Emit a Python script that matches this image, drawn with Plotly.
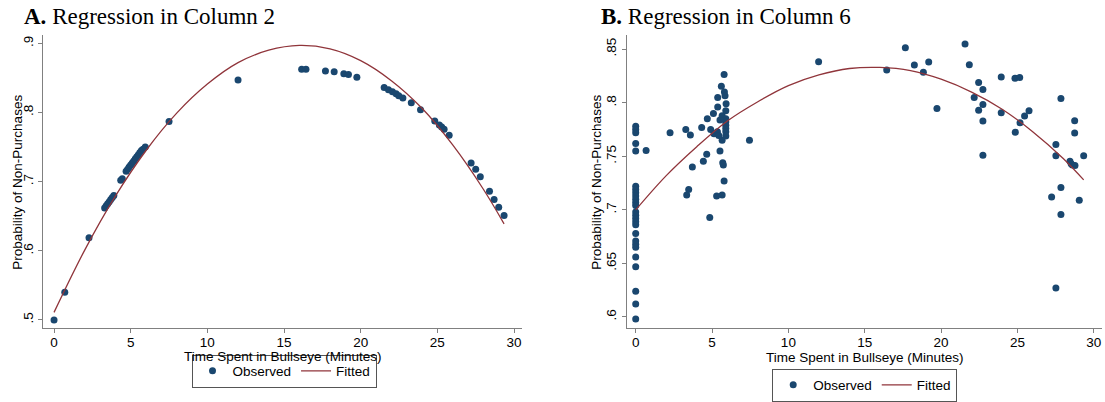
import plotly.graph_objects as go

# ---------------- Panel A data ----------------
tA_obs = [0, 0.7, 2.28, 3.3, 3.4, 3.5, 3.6, 3.7, 3.8, 3.9, 4.35, 4.45, 4.7, 4.8, 4.9, 5.0,
          5.1, 5.2, 5.3, 5.4, 5.5, 5.6, 5.7, 5.8, 5.95, 7.5, 12.0, 16.15, 16.43, 17.7,
          18.27, 18.9, 19.2, 19.75, 21.53, 21.81, 22.07, 22.31, 22.48, 22.75, 23.3, 23.9,
          24.83, 25.13, 25.28, 25.44, 25.77, 27.2, 27.5, 27.8, 28.4, 28.7, 29.0, 29.35]
pA_obs = [0.500, 0.540, 0.619, 0.662, 0.665, 0.668, 0.671, 0.674, 0.677, 0.680, 0.702, 0.704,
          0.715, 0.718, 0.721, 0.724, 0.727, 0.730, 0.733, 0.736, 0.739, 0.742, 0.745, 0.747,
          0.750, 0.787, 0.847, 0.8625, 0.8625, 0.860, 0.859, 0.856, 0.855, 0.851, 0.836,
          0.833, 0.830, 0.827, 0.824, 0.821, 0.814, 0.804, 0.7876, 0.7818, 0.779, 0.7756,
          0.7669, 0.727, 0.718, 0.707, 0.686, 0.674, 0.663, 0.651]
tA_fit = [0, 2, 4, 6, 8, 10, 12, 14, 16, 18, 20, 22, 24, 26, 28, 29.35]
pA_fit = [0.511, 0.601, 0.679, 0.745, 0.799, 0.841, 0.872, 0.890, 0.897, 0.892, 0.875,
          0.846, 0.806, 0.753, 0.689, 0.639]

# ---------------- Panel B data ----------------
tB_obs = [0] * 26 + [
    0.68, 2.25, 3.28, 3.58, 3.34, 3.47, 3.71, 4.32, 4.43, 4.65, 4.69, 4.85, 4.91, 5.09,
    5.13, 5.30, 5.37, 5.37, 5.35, 5.52, 5.61, 5.66, 5.66, 5.70, 5.74, 5.79, 5.81, 5.79,
    5.85, 5.92, 5.90, 5.90, 5.90, 5.90, 5.90, 5.90, 5.90, 5.66, 5.52, 5.44, 7.45,
    11.98, 16.44, 17.66, 18.25, 18.84, 19.19, 19.73, 21.57, 21.85, 22.17, 22.46, 22.46,
    22.74, 22.74, 22.74, 22.74, 23.94, 23.94, 24.84, 25.15, 24.86, 25.17, 25.47, 25.76,
    27.85, 28.75, 28.75, 27.52, 27.52, 29.34, 28.44, 28.60, 28.77, 28.52, 27.24, 27.85,
    29.05, 27.85, 27.52]
pB_obs = [0.778, 0.775, 0.772, 0.762, 0.755, 0.722, 0.719, 0.716, 0.713, 0.710, 0.707,
          0.704, 0.698, 0.695, 0.692, 0.689, 0.686, 0.678, 0.671, 0.668, 0.665, 0.656,
          0.647, 0.624, 0.612, 0.598] + [
    0.7555, 0.772, 0.775, 0.770, 0.714, 0.719, 0.740, 0.777, 0.7455, 0.752, 0.785, 0.693,
    0.775, 0.790, 0.771, 0.713, 0.796, 0.805, 0.773, 0.755, 0.8155, 0.788, 0.714, 0.744,
    0.742, 0.8265, 0.810, 0.727, 0.8065, 0.799, 0.7925, 0.785, 0.782, 0.779, 0.776, 0.773,
    0.769, 0.765, 0.784, 0.7695, 0.765,
    0.8383, 0.8306, 0.8514, 0.8352, 0.8284, 0.838, 0.7947, 0.8549, 0.8355, 0.805, 0.819,
    0.793, 0.8125, 0.7985, 0.783, 0.751, 0.824, 0.7907, 0.8228, 0.8237, 0.7726, 0.7813,
    0.7876, 0.7925, 0.8041, 0.7832, 0.7717, 0.7611, 0.7505, 0.7505, 0.7455, 0.742, 0.7415,
    0.743, 0.7121, 0.7209, 0.709, 0.6957, 0.6271]
tB_fit = [0, 2, 4, 6, 8, 10, 12, 14, 16, 18, 20, 22, 24, 26, 28, 29.34]
pB_fit = [0.700, 0.732, 0.759, 0.783, 0.801, 0.816, 0.826, 0.832, 0.833, 0.830, 0.822,
          0.810, 0.794, 0.773, 0.748, 0.728]

x_ticks = [0, 5, 10, 15, 20, 25, 30]
yA_ticks = [0.5, 0.6, 0.7, 0.8, 0.9]
yA_labels = [".5", ".6", ".7", ".8", ".9"]
yB_ticks = [0.6, 0.65, 0.7, 0.75, 0.8, 0.85]
yB_labels = [".6", ".65", ".7", ".75", ".8", ".85"]

NAVY = "#1a476f"
MAROON = "#90353b"
AXIS = "#808080"
SANS = "Liberation Sans, Arial, sans-serif"
SERIF = "Liberation Serif, Times New Roman, serif"
W, H = 1105, 402

fig = go.Figure()
fig.add_trace(go.Scatter(x=tA_obs, y=pA_obs, mode="markers", name="Observed",
                         marker=dict(color=NAVY, size=7), xaxis="x", yaxis="y",
                         legend="legend"))
fig.add_trace(go.Scatter(x=tA_fit, y=pA_fit, mode="lines", name="Fitted",
                         line=dict(color=MAROON, width=1.3, shape="spline"),
                         xaxis="x", yaxis="y", legend="legend"))
fig.add_trace(go.Scatter(x=tB_obs, y=pB_obs, mode="markers", name="Observed",
                         marker=dict(color=NAVY, size=7), xaxis="x2", yaxis="y2",
                         legend="legend2"))
fig.add_trace(go.Scatter(x=tB_fit, y=pB_fit, mode="lines", name="Fitted",
                         line=dict(color=MAROON, width=1.3, shape="spline"),
                         xaxis="x2", yaxis="y2", legend="legend2"))

ax_common = dict(showline=True, linecolor=AXIS, linewidth=1, ticks="outside", ticklen=4,
                 tickcolor=AXIS, showgrid=False, zeroline=False,
                 tickfont=dict(family=SANS, size=13.5, color="black"))
ydom = [1 - 328 / H, 1 - 35 / H]

fig.update_layout(
    width=W, height=H, margin=dict(l=0, r=0, t=0, b=0),
    paper_bgcolor="white", plot_bgcolor="white",
    xaxis=dict(domain=[43 / W, 521.7 / W], range=[-0.72, 30.5], tickvals=x_ticks,
               anchor="y", ticklabelstandoff=-2, **ax_common),
    yaxis=dict(domain=ydom, range=[0.4884, 0.912], tickvals=yA_ticks, ticktext=yA_labels,
               tickangle=-90, anchor="x", **ax_common),
    xaxis2=dict(domain=[626.7 / W, 1101.7 / W], range=[-0.59, 30.52], tickvals=x_ticks,
                anchor="y2", ticklabelstandoff=-2, **ax_common),
    yaxis2=dict(domain=ydom, range=[0.5897, 0.8633], tickvals=yB_ticks, ticktext=yB_labels,
                tickangle=-90, anchor="x2", **ax_common),
    legend=dict(orientation="h", x=284 / W, y=1 - 371 / H, xanchor="center",
                yanchor="middle", bordercolor="#555555", borderwidth=1,
                font=dict(family=SANS, size=13.5, color="black"), bgcolor="white"),
    legend2=dict(orientation="h", x=864.7 / W, y=1 - 385 / H, xanchor="center",
                 yanchor="middle", bordercolor="#555555", borderwidth=1,
                 font=dict(family=SANS, size=13.5, color="black"), bgcolor="white"),
)

annos = [
    dict(text="<b>A.</b> Regression in Column 2", x=22 / W, y=1 - 16 / H, xanchor="left",
         yanchor="middle", font=dict(family=SERIF, size=23, color="black")),
    dict(text="<b>B.</b> Regression in Column 6", x=599 / W, y=1 - 16 / H, xanchor="left",
         yanchor="middle", font=dict(family=SERIF, size=23, color="black")),
    dict(text="Probability of Non-Purchases", x=16.7 / W, y=1 - 182 / H, textangle=-90,
         xanchor="center", yanchor="middle", font=dict(family=SANS, size=13.5, color="black")),
    dict(text="Probability of Non-Purchases", x=595.7 / W, y=1 - 182 / H, textangle=-90,
         xanchor="center", yanchor="middle", font=dict(family=SANS, size=13.5, color="black")),
    dict(text="Time Spent in Bullseye (Minutes)", x=283 / W, y=1 - 356 / H,
         xanchor="center", yanchor="middle", font=dict(family=SANS, size=13.5, color="black")),
    dict(text="Time Spent in Bullseye (Minutes)", x=864.7 / W, y=1 - 357 / H,
         xanchor="center", yanchor="middle", font=dict(family=SANS, size=13.5, color="black")),
]
for a in annos:
    fig.add_annotation(xref="paper", yref="paper", showarrow=False, **a)

fig.write_html("out.html")
